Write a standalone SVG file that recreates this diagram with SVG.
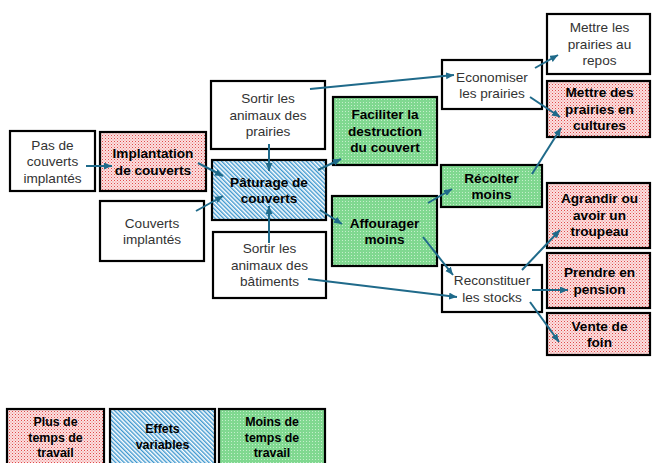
<svg xmlns="http://www.w3.org/2000/svg" width="652" height="463" viewBox="0 0 652 463">
<defs>
<pattern id="pRed" width="3" height="3" patternUnits="userSpaceOnUse">
<rect width="3" height="3" fill="#fbe0e0"/>
<rect width="1" height="1" fill="#e04a4a"/>
<rect x="1.5" y="1.5" width="1" height="1" fill="#ee8080"/>
</pattern>
<pattern id="pBlue" width="3" height="3" patternUnits="userSpaceOnUse" patternTransform="rotate(-45)">
<rect width="3" height="3" fill="#ffffff"/>
<rect width="1.4" height="3" fill="#3f98cf"/>
</pattern>
<pattern id="pGreen" width="3" height="3" patternUnits="userSpaceOnUse">
<rect width="3" height="3" fill="#80d890"/>
<rect width="1" height="1" fill="#c4efcb"/>
</pattern>
<marker id="ah" markerUnits="userSpaceOnUse" markerWidth="9" markerHeight="8" refX="8" refY="3.5" orient="auto">
<path d="M0,0 L8,3.5 L0,7 z" fill="#1f6a8a"/>
</marker>
</defs>
<style>
.b{stroke:#000;stroke-width:2.2}
.w{fill:#fff}
.r{fill:url(#pRed)}
.u{fill:url(#pBlue)}
.g{fill:url(#pGreen)}
text{font-family:"Liberation Sans",Arial,sans-serif;font-size:13.6px;text-anchor:middle}
.n{fill:#333}
.k{fill:#000;font-weight:bold}
.lg{font-size:12.4px}
.c line{stroke:#1f6a8a;stroke-width:2;marker-end:url(#ah)}
</style>

<g id="pas-de-couverts"><rect class="b w" x="10" y="131" width="85" height="60"/>
<text class="n" x="52.5" y="149.5">Pas de</text><text class="n" x="52.5" y="166">couverts</text><text class="n" x="52.5" y="182.5">implantés</text></g>

<g id="implantation"><rect class="b r" x="100" y="132" width="106" height="59"/>
<text class="k" x="153" y="158">Implantation</text><text class="k" x="153" y="174.5">de couverts</text></g>

<g id="couverts-implantes"><rect class="b w" x="100" y="201" width="104" height="60"/>
<text class="n" x="152" y="227.5">Couverts</text><text class="n" x="152" y="244">implantés</text></g>

<g id="sortir-prairies"><rect class="b w" x="211" y="81" width="114" height="68"/>
<text class="n" x="268" y="103.3">Sortir les</text><text class="n" x="268" y="119.8">animaux des</text><text class="n" x="268" y="136.3">prairies</text></g>

<g id="paturage"><rect class="b u" x="212" y="160" width="114" height="60"/>
<text class="k" x="269" y="186.5">Pâturage de</text><text class="k" x="269" y="203">couverts</text></g>

<g id="sortir-batiments"><rect class="b w" x="213" y="232" width="113" height="66"/>
<text class="n" x="269.5" y="253.3">Sortir les</text><text class="n" x="269.5" y="269.8">animaux des</text><text class="n" x="269.5" y="286.3">bâtiments</text></g>

<g id="faciliter"><rect class="b g" x="333" y="97" width="104" height="68"/>
<text class="k" x="385" y="119.3">Faciliter la</text><text class="k" x="385" y="135.8">destruction</text><text class="k" x="385" y="152.3">du couvert</text></g>

<g id="affourager"><rect class="b g" x="332" y="196" width="105" height="70"/>
<text class="k" x="384.5" y="227.5">Affourager</text><text class="k" x="384.5" y="244">moins</text></g>

<g id="economiser"><rect class="b w" x="442" y="60" width="100" height="49"/>
<text class="n" x="492" y="81.5">Economiser</text><text class="n" x="492" y="98">les prairies</text></g>

<g id="recolter"><rect class="b g" x="441" y="165" width="101" height="42"/>
<text class="k" x="491.5" y="182.5">Récolter</text><text class="k" x="491.5" y="199">moins</text></g>

<g id="reconstituer"><rect class="b w" x="442" y="265" width="100" height="47"/>
<text class="n" x="492" y="285">Reconstituer</text><text class="n" x="492" y="301.5">les stocks</text></g>

<g id="mettre-repos"><rect class="b w" x="547" y="14" width="103" height="60"/>
<text class="n" x="599.5" y="32.3">Mettre les</text><text class="n" x="599.5" y="48.8">prairies au</text><text class="n" x="599.5" y="65.3">repos</text></g>

<g id="mettre-cultures"><rect class="b r" x="547" y="81" width="103" height="56"/>
<text class="k" x="599.5" y="97.3">Mettre des</text><text class="k" x="599.5" y="113.8">prairies en</text><text class="k" x="599.5" y="130.3">cultures</text></g>

<g id="agrandir"><rect class="b r" x="547" y="183" width="103" height="65"/>
<text class="k" x="599.5" y="203.3">Agrandir ou</text><text class="k" x="599.5" y="219.8">avoir un</text><text class="k" x="599.5" y="236.3">troupeau</text></g>

<g id="pension"><rect class="b r" x="547" y="253" width="103" height="55"/>
<text class="k" x="599.5" y="277">Prendre en</text><text class="k" x="599.5" y="293.5">pension</text></g>

<g id="vente"><rect class="b r" x="547" y="313" width="103" height="42"/>
<text class="k" x="599.5" y="330.5">Vente de</text><text class="k" x="599.5" y="347">foin</text></g>

<g id="legende-plus"><rect class="b r" x="7" y="409" width="97" height="60"/>
<text class="k lg" x="55.5" y="425.7">Plus de</text><text class="k lg" x="55.5" y="441.5">temps de</text><text class="k lg" x="55.5" y="457.3">travail</text></g>

<g id="legende-effets"><rect class="b u" x="110" y="409" width="105" height="60"/>
<text class="k lg" x="162.5" y="433.3">Effets</text><text class="k lg" x="162.5" y="449">variables</text></g>

<g id="legende-moins"><rect class="b g" x="219" y="409" width="106" height="60"/>
<text class="k lg" x="272" y="425.7">Moins de</text><text class="k lg" x="272" y="441.5">temps de</text><text class="k lg" x="272" y="457.3">travail</text></g>

<g id="connecteurs" class="c">
<line x1="86" y1="166" x2="112" y2="166"/>
<line x1="198" y1="163" x2="223" y2="176"/>
<line x1="196" y1="211" x2="223" y2="196"/>
<line x1="269" y1="144" x2="269" y2="171"/>
<line x1="269" y1="243" x2="269" y2="206"/>
<line x1="310" y1="89" x2="454" y2="75"/>
<line x1="318" y1="170" x2="341" y2="159"/>
<line x1="320" y1="210" x2="342" y2="224"/>
<line x1="428" y1="203" x2="452" y2="189"/>
<line x1="423" y1="237" x2="453" y2="275"/>
<line x1="308" y1="279" x2="457" y2="297"/>
<line x1="535" y1="68" x2="558" y2="55"/>
<line x1="530" y1="97" x2="560" y2="117"/>
<line x1="532" y1="174" x2="561" y2="128"/>
<line x1="522" y1="270" x2="560" y2="230"/>
<line x1="532" y1="290" x2="568" y2="290"/>
<line x1="530" y1="302" x2="559" y2="342"/>
</g>
</svg>
